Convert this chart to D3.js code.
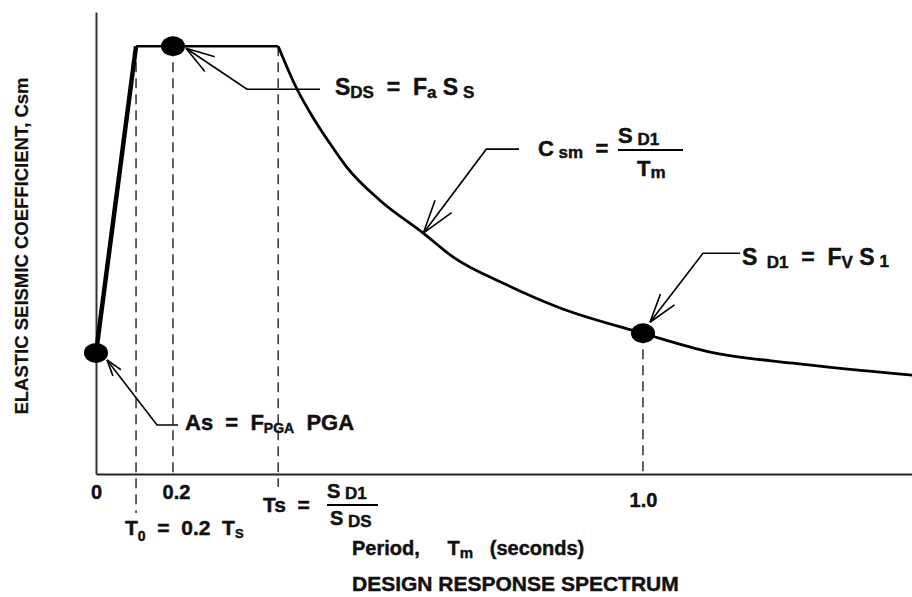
<!DOCTYPE html>
<html>
<head>
<meta charset="utf-8">
<script src="https://cdn.jsdelivr.net/npm/d3@7.9.0/dist/d3.min.js"></script>
<style>
  body { margin: 0; background: #fff; }
  svg { display: block; }
  text { font-family: "Liberation Sans", Arial, sans-serif; font-weight: bold; fill: #111; stroke: #111; stroke-width: 0.45px; white-space: pre; }
</style>
</head>
<body>
<svg width="912" height="597"></svg>
<script>
// values (period in s, coefficient relative to SDS)
const tickValues = [0, 0.2, 1.0];
const tickLabels = ["0", "0.2", "1.0"];
const t0 = 0.104;
const ts = 0.379;
const sds = 1.0;
const as = 0.283;
const sd1 = 0.329;
const curveT = [0.379, 0.411, 0.438, 0.467, 0.496, 0.552, 0.626, 0.677, 0.765, 0.859, 1.0, 1.125, 1.279, 1.5];
const curveC = [1.0, 0.900, 0.834, 0.773, 0.717, 0.640, 0.563, 0.507, 0.444, 0.388, 0.329, 0.285, 0.259, 0.231];
const dotT = [0, 0.2, 1.0];
const dotC = [as, sds, sd1];

const svg = d3.select("svg");

// sketch is not to scale, so the period axis is piecewise
const x = d3.scaleLinear().domain([0, 0.2, 1.0, 1.5]).range([96, 173, 643, 912]);
const y = d3.scaleLinear().domain([0, 1.08]).range([474, 12]);

// axes
const xAxis = svg.append("g")
  .attr("transform", `translate(0,${y(0)})`)
  .call(d3.axisBottom(x).tickValues(tickValues).tickFormat((d, i) => tickLabels[i]).tickSize(0).tickSizeOuter(0).tickPadding(11));
xAxis.select(".domain").attr("stroke", "#222").attr("stroke-width", 2);
xAxis.selectAll(".tick text")
  .attr("font-size", 20).attr("font-family", null).attr("fill", "#111")
  .attr("y", d => d === 1 ? 19 : 11)
  .attr("dx", d => d === 0.2 ? 3 : 0);

const yAxis = svg.append("g")
  .attr("transform", `translate(${x(0)},0)`)
  .call(d3.axisLeft(y).tickValues([]).tickSizeOuter(0));
yAxis.select(".domain").attr("stroke", "#333").attr("stroke-width", 2);

// dashed guides
[[t0, sds, 39], [0.2, sds, 4], [ts, sds, 13], [1.0, sd1, 0]].forEach(([t, c, ext]) => {
  svg.append("line")
    .attr("x1", x(t)).attr("x2", x(t))
    .attr("y1", y(c)).attr("y2", y(0) + ext)
    .attr("stroke", "#111").attr("stroke-width", 1.3)
    .attr("stroke-dasharray", "10,6");
});

// spectrum
const line = d3.line().x(d => x(d[0])).y(d => y(d[1]));
svg.append("path").attr("d", line([[0, as], [t0, sds]]))
  .attr("fill", "none").attr("stroke", "#000").attr("stroke-width", 4.5);
svg.append("path").attr("d", line([[t0, sds], [ts, sds]]))
  .attr("fill", "none").attr("stroke", "#000").attr("stroke-width", 2.5);
const curvePts = curveT.map((t, i) => [t, curveC[i]]);
svg.append("path").attr("d", line.curve(d3.curveMonotoneX)(curvePts))
  .attr("fill", "none").attr("stroke", "#000").attr("stroke-width", 2.8);

// dots
dotT.forEach((t, i) => {
  svg.append("ellipse")
    .attr("cx", x(t)).attr("cy", y(dotC[i]))
    .attr("rx", 12).attr("ry", 10).attr("fill", "#000");
});

// leaders with open arrow heads
function leader(tip, d, endX, len) {
  const elbow = [tip[0] + d[0], tip[1] + d[1]];
  svg.append("path")
    .attr("d", d3.line()([[endX, elbow[1]], elbow, tip]))
    .attr("fill", "none").attr("stroke", "#000").attr("stroke-width", 1.6);
  const a = Math.atan2(d[1], d[0]);
  [-0.3, 0.3].forEach(da => {
    svg.append("line")
      .attr("x1", tip[0]).attr("y1", tip[1])
      .attr("x2", tip[0] + len * Math.cos(a + da))
      .attr("y2", tip[1] + len * Math.sin(a + da))
      .attr("stroke", "#000").attr("stroke-width", 1.6);
  });
}
leader([x(0) + 11, y(as) + 7], [50, 65], 178, 17);
leader([x(0.2) + 13, y(sds) + 2], [61, 41], 320, 30);
leader([x(curveT[6]), y(curveC[6])], [63, -84], 519, 35);
leader([x(1.0) + 7, y(sd1) - 11], [53, -69], 740, 30);

// text with subscripts: parts are [text] or [text, size, dy]
function rich(x0, y0, parts, size, anchor) {
  const t = svg.append("text").attr("x", x0).attr("y", y0)
    .attr("font-size", size).attr("text-anchor", anchor || "start");
  let shift = 0;
  parts.forEach(([s, sz, dy]) => {
    const off = dy || 0;
    t.append("tspan").attr("dy", off - shift).attr("font-size", sz || size).text(s);
    shift = off;
  });
  return t;
}
function bar(x1, x2, yy) {
  svg.append("line").attr("x1", x1).attr("x2", x2).attr("y1", yy).attr("y2", yy)
    .attr("stroke", "#000").attr("stroke-width", 2.2);
}

rich(185, 430, [["As  =  F"], ["PGA", 14, 3], ["  PGA"]], 22);
rich(335, 95, [["S"], ["DS", 17, 3], ["  =  F"], ["a", 17, 3], [" S"], [" S", 17, 3]], 23);

rich(538, 156, [["C"], [" sm", 17, 2], ["  ="]], 22);
rich(618, 143, [["S"], [" D1", 17, 2]], 22);
bar(618, 683, 150);
rich(637, 176, [["T"], ["m", 17, 2]], 22);

rich(742, 265, [["S"], ["  D1", 17, 3], ["  =  F"], ["V", 17, 3], [" S"], [" 1", 17, 2]], 23);

rich(263, 512, [["Ts  ="]], 21);
rich(327, 498, [["S"], [" D1", 17, 1]], 20);
bar(327, 378, 505);
rich(330, 525, [["S"], [" DS", 17, 2]], 20);

rich(125, 535, [["T"], ["0", 14, 6], ["  =  0.2  T"], ["S", 13, 3]], 21);

rich(352, 555, [["Period,     T"], ["m", 15, 3], ["   (seconds)"]], 20);
svg.append("text").attr("x", 352).attr("y", 591).attr("font-size", 21)
  .text("DESIGN RESPONSE SPECTRUM");

svg.append("text")
  .attr("transform", "translate(28,246) rotate(-90)")
  .attr("text-anchor", "middle").attr("font-size", 18.5)
  .style("stroke-width", "0.2px")
  .text("ELASTIC SEISMIC COEFFICIENT, Csm");
</script>
</body>
</html>
